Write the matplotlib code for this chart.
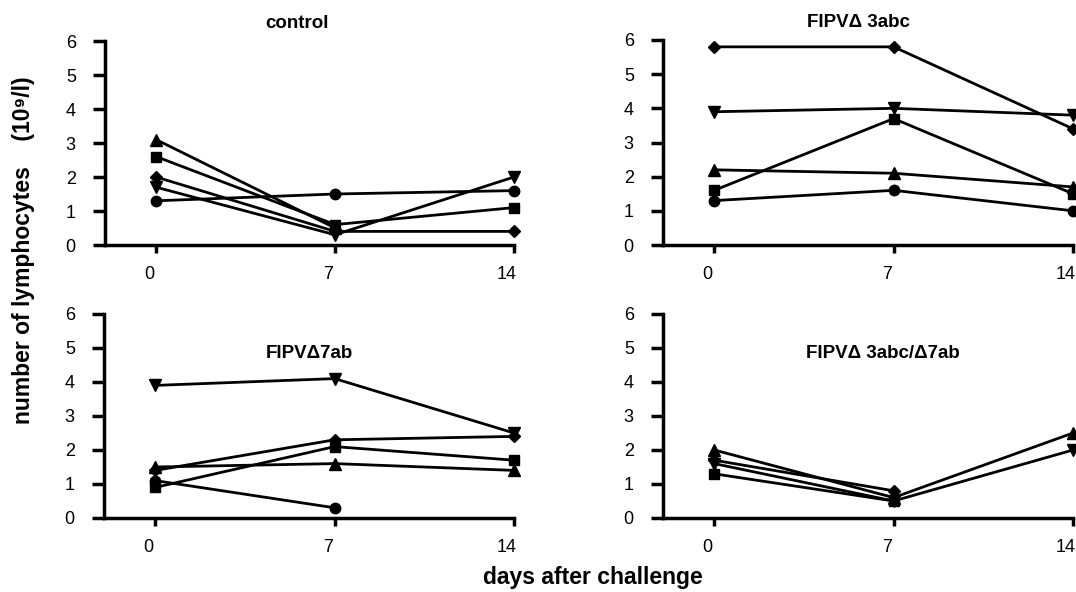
import numpy as np
import matplotlib
matplotlib.use("Agg")
import matplotlib.pyplot as plt
import matplotlib.transforms as mtransforms

plt.rcParams['font.family'] = ['Liberation Sans', 'DejaVu Sans']

days = [0, 7, 14]
nan = np.nan

panel_titles = ["control", "FIPVΔ 3abc", "FIPVΔ7ab", "FIPVΔ 3abc/Δ7ab"]

# series per panel: marker -> values at days 0, 7, 14
control = {
    "^": [3.1, 0.5, nan],
    "s": [2.6, 0.6, 1.1],
    "D": [2.0, 0.4, 0.4],
    "v": [1.7, 0.3, 2.0],
    "o": [1.3, 1.5, 1.6],
}
d3abc = {
    "D": [5.8, 5.8, 3.4],
    "v": [3.9, 4.0, 3.8],
    "s": [1.6, 3.7, 1.5],
    "^": [2.2, 2.1, 1.7],
    "o": [1.3, 1.6, 1.0],
}
d7ab = {
    "v": [3.9, 4.1, 2.5],
    "D": [1.4, 2.3, 2.4],
    "^": [1.5, 1.6, 1.4],
    "s": [0.9, 2.1, 1.7],
    "o": [1.1, 0.3, nan],
}
d3abc7ab = {
    "^": [2.0, 0.6, 2.5],
    "D": [1.7, 0.8, nan],
    "v": [1.6, 0.5, 2.0],
    "s": [1.3, 0.5, nan],
}
panels = [control, d3abc, d7ab, d3abc7ab]

y_ticks = [0, 1, 2, 3, 4, 5, 6]
x_ticks = [0, 7, 14]

fig = plt.figure(figsize=(10.76, 5.92), dpi=100)
W, H = 1076, 592
boxes = [
    (105, 41, 514, 245),
    (663, 40, 1073, 245),
    (104, 314, 514, 518),
    (663, 314, 1073, 518),
]
axes = []
for (l, t, r, b) in boxes:
    ax = fig.add_axes([l / W, 1 - b / H, (r - l) / W, (b - t) / H])
    axes.append(ax)

msize = {"o": 7.5, "s": 7.5, "D": 6, "^": 8, "v": 8}
shift = mtransforms.ScaledTranslation(-7 / 100, 0, fig.dpi_scale_trans)

for i, (ax, data) in enumerate(zip(axes, panels)):
    for m, vals in data.items():
        v = np.array(vals, dtype=float)
        ax.plot(days, v, color='black', lw=2.0, marker=m, ms=msize[m],
                mfc='black', mec='black', clip_on=False, zorder=3)
    ax.set_xlim(-2, 14)
    ax.set_ylim(0, 6)
    ax.set_xticks(x_ticks)
    ax.set_yticks(y_ticks)
    for s in ['top', 'right']:
        ax.spines[s].set_visible(False)
    for s in ['left', 'bottom']:
        ax.spines[s].set_linewidth(2.5)
    ax.tick_params(axis='y', direction='out', length=9, width=2.5,
                   labelsize=13, pad=12)
    ax.tick_params(axis='x', direction='out', length=6, width=2.5,
                   labelsize=13, pad=9)
    for lab in ax.get_xticklabels():
        lab.set_transform(lab.get_transform() + shift)
    ax.patch.set_visible(False)

title_pos = [(5.5, 6.38), (5.63, 6.38), (6.0, 4.7), (6.6, 4.7)]
for ax, t, (tx, ty) in zip(axes, panel_titles, title_pos):
    ax.text(tx, ty, t, ha='center', va='baseline', fontsize=13.5,
            fontweight='bold', clip_on=False)

fig.text(0.022, 0.578, "number of lymphocytes    (10⁹/l)", rotation=90,
         ha='center', va='center', fontsize=16.5, fontweight='bold')
fig.text(0.551, 0.025, "days after challenge", ha='center', va='center',
         fontsize=16.5, fontweight='bold')

fig.savefig("out.png", dpi=100)
